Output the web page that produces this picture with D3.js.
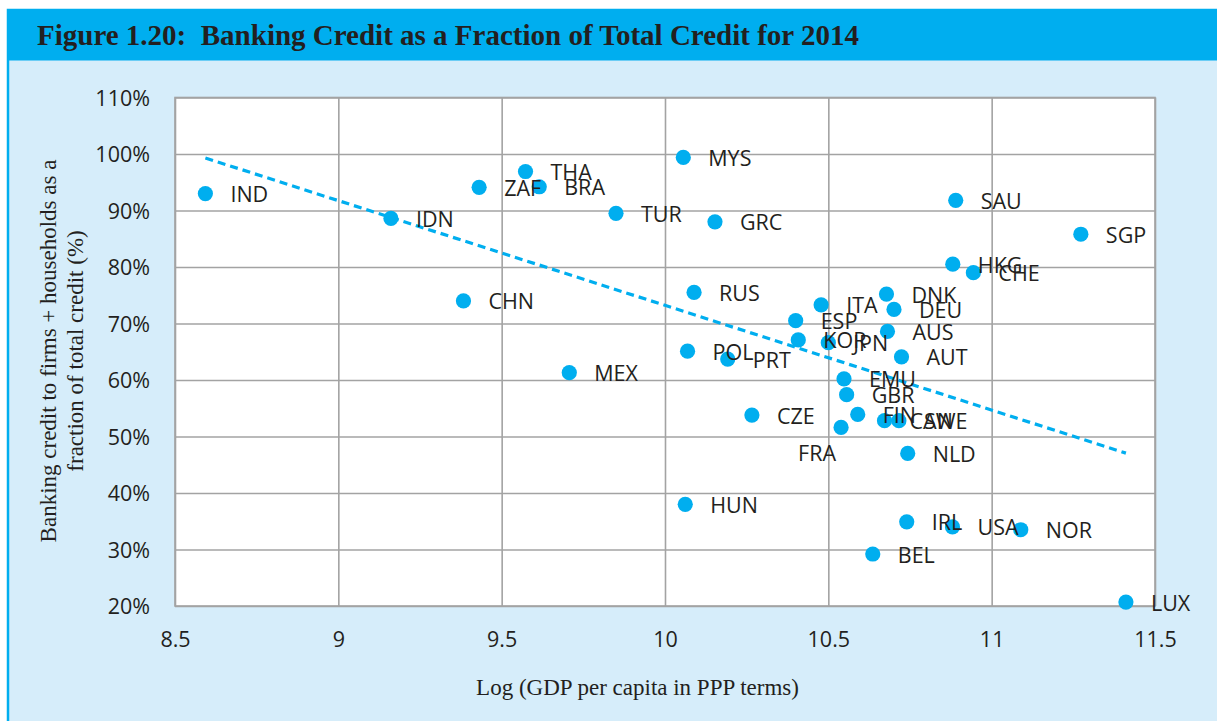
<!DOCTYPE html>
<html>
<head>
<meta charset="utf-8">
<script src="https://cdn.jsdelivr.net/npm/d3@7"></script>
<style>
  html, body { margin: 0; padding: 0; background: #ffffff; }
  svg { display: block; }
</style>
</head>
<body>
<svg id="chart" width="1217" height="721"></svg>
<script>
// ---- data ----
const countries = ["IND","IDN","ZAF","THA","BRA","TUR","CHN","MEX","MYS","GRC",
                   "SAU","RUS","HKG","CHE","DNK","DEU","ITA","ESP","KOR","JPN",
                   "AUS","AUT","EMU","GBR","FIN","FRA","CAN","SWE","NLD","CZE",
                   "POL","PRT","HUN","BEL","IRL","USA","NOR","LUX","SGP"];
const logGdp = [8.593, 9.161, 9.431, 9.573, 9.615, 9.850, 9.383, 9.707, 10.056, 10.153,
                10.890, 10.089, 10.881, 10.944, 10.678, 10.701, 10.478, 10.400, 10.408, 10.500,
                10.681, 10.724, 10.548, 10.556, 10.590, 10.539, 10.672, 10.716, 10.743, 10.266,
                10.069, 10.192, 10.062, 10.636, 10.740, 10.880, 11.089, 11.411, 11.273];
const bankShare = [93.0, 88.6, 94.1, 96.9, 94.2, 89.5, 74.0, 61.3, 99.4, 88.0,
                   91.8, 75.5, 80.5, 79.0, 75.2, 72.5, 73.3, 70.5, 67.1, 66.6,
                   68.6, 64.1, 60.2, 57.4, 53.9, 51.6, 52.8, 52.8, 47.0, 53.8,
                   65.1, 63.7, 38.0, 29.2, 34.9, 34.0, 33.5, 20.7, 85.8];
const xTicks = [8.5, 9, 9.5, 10, 10.5, 11, 11.5];
const yTicks = [20, 30, 40, 50, 60, 70, 80, 90, 100, 110];
const titleText = "Figure 1.20:  Banking Credit as a Fraction of Total Credit for 2014";
const yTitleLines = ["Banking credit to firms + households as a", "fraction of total credit (%)"];
const xTitleText = "Log (GDP per capita in PPP terms)";

// ---- layout / style ----
const W = 1217, H = 721;
const plot = { left: 175, right: 1155, top: 97.5, bottom: 606 };
const BLUE = "#00AEEF", PANEL = "#D6EDFA", GRID = "#A3A3A3", INK = "#231F20";
const sansFont = "'Open Sans', 'Noto Sans', sans-serif";
const serifFont = "'Liberation Serif', 'DejaVu Serif', serif";
const sansSize = 21.5;
// label placement nudges (pixels) for labels moved by hand in the original
const labelNudge = { FRA: [-68, 25.5] };

const svg = d3.select("#chart");

// frame
svg.append("rect").attr("x", 8).attr("y", 10).attr("width", W - 8 + 2).attr("height", H - 10 + 2)
  .attr("fill", PANEL).attr("stroke", BLUE).attr("stroke-width", 2.5);
svg.append("rect").attr("x", 7).attr("y", 9.5).attr("width", W - 7).attr("height", 51)
  .attr("fill", BLUE);
svg.append("text").attr("x", 37).attr("y", 45)
  .attr("xml:space", "preserve").style("white-space", "pre")
  .attr("font-family", serifFont).attr("font-weight", "bold").attr("font-size", 29)
  .attr("fill", INK).text(titleText);

// scales
const x = d3.scaleLinear().domain([8.5, 11.5]).range([plot.left, plot.right]);
const y = d3.scaleLinear().domain([20, 110]).range([plot.bottom, plot.top]);

// plot background
svg.append("rect").attr("x", plot.left).attr("y", plot.top)
  .attr("width", plot.right - plot.left).attr("height", plot.bottom - plot.top)
  .attr("fill", "#ffffff");

// grid via axes
const gx = svg.append("g").attr("transform", `translate(0,${plot.bottom})`)
  .call(d3.axisBottom(x).tickValues(xTicks).tickSize(-(plot.bottom - plot.top)).tickFormat(d3.format("")));
const gy = svg.append("g").attr("transform", `translate(${plot.left},0)`)
  .call(d3.axisLeft(y).tickValues(yTicks).tickSize(-(plot.right - plot.left)).tickFormat(d => d + "%"));
[gx, gy].forEach(g => {
  g.select(".domain").remove();
  g.selectAll(".tick line").attr("stroke", GRID).attr("stroke-width", 1.6);
  g.selectAll(".tick text").attr("font-family", sansFont).attr("font-size", sansSize).attr("fill", INK);
});
gx.selectAll(".tick text").attr("dy", null).attr("y", 41);
gy.selectAll(".tick text").attr("x", -25).attr("dy", "0.35em");

// plot border
svg.append("rect").attr("x", plot.left).attr("y", plot.top)
  .attr("width", plot.right - plot.left).attr("height", plot.bottom - plot.top)
  .attr("fill", "none").attr("stroke", GRID).attr("stroke-width", 1.6);

// linear trend (least squares on the data)
const n = logGdp.length;
const mx = d3.mean(logGdp), my = d3.mean(bankShare);
let sxy = 0, sxx = 0;
for (let i = 0; i < n; i++) { sxy += (logGdp[i] - mx) * (bankShare[i] - my); sxx += (logGdp[i] - mx) ** 2; }
const slope = sxy / sxx, intercept = my - slope * mx;
const [x0, x1] = d3.extent(logGdp);
svg.append("path")
  .datum([x0, x1])
  .attr("d", d3.line().x(d => x(d)).y(d => y(intercept + slope * d)))
  .attr("stroke", BLUE).attr("stroke-width", 3.2).attr("fill", "none")
  .attr("stroke-dasharray", "8,5");

// points
const pts = countries.map((c, i) => ({ c, gx: logGdp[i], v: bankShare[i] }));
svg.append("g").selectAll("circle").data(pts).join("circle")
  .attr("cx", d => x(d.gx)).attr("cy", d => y(d.v)).attr("r", 7.6)
  .attr("fill", BLUE);

// labels
svg.append("g").selectAll("text").data(pts).join("text")
  .attr("x", d => x(d.gx) + 25 + (labelNudge[d.c] ? labelNudge[d.c][0] : 0))
  .attr("y", d => y(d.v) + 8.5 + (labelNudge[d.c] ? labelNudge[d.c][1] : 0))
  .attr("font-family", sansFont).attr("font-size", sansSize).attr("fill", INK)
  .text(d => d.c);

// axis titles
const yt = svg.append("text")
  .attr("transform", "translate(56,351) rotate(-90)")
  .attr("text-anchor", "middle")
  .attr("font-family", serifFont).attr("font-size", 23).attr("fill", INK);
yTitleLines.forEach((t, i) => yt.append("tspan").attr("x", 0).attr("y", i * 27).text(t));

svg.append("text").attr("x", 637.5).attr("y", 694.5).attr("text-anchor", "middle")
  .attr("font-family", serifFont).attr("font-size", 23).attr("fill", INK)
  .text(xTitleText);
</script>
</body>
</html>
